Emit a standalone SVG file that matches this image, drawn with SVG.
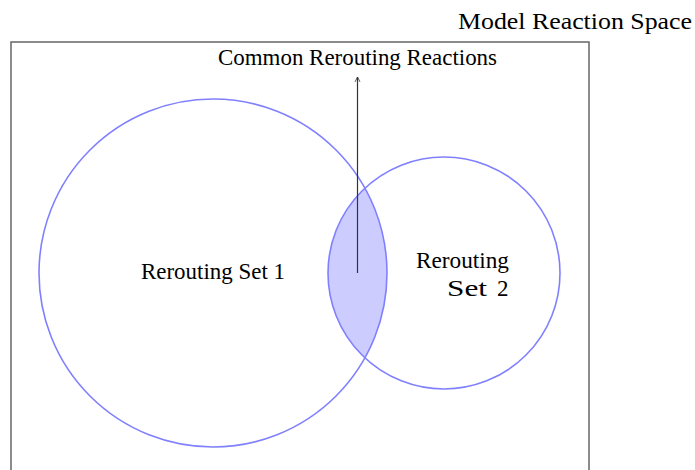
<svg xmlns="http://www.w3.org/2000/svg" width="695" height="470" viewBox="0 0 695 470">
<style>
.t{font-family:"Liberation Serif","DejaVu Serif",serif;font-size:23px;fill:#000}
.c{fill:none;stroke:#8080ff;stroke-width:1.6}
</style>
<defs>
<marker id="ah" viewBox="0 0 10 10" refX="9" refY="5" markerWidth="7" markerHeight="7" orient="auto" markerUnits="userSpaceOnUse">
<path d="M2,1.5 L9,5 L2,8.5" fill="none" stroke="#333" stroke-width="1.2"/>
</marker>
</defs>
<rect width="695" height="470" fill="#fff"/>
<g id="space">
<rect x="11" y="42" width="578" height="460" fill="none" stroke="#666" stroke-width="1.5"/>
<text class="t" x="458" y="29" textLength="234" lengthAdjust="spacingAndGlyphs">Model Reaction Space</text>
</g>
<g id="lens">
<path d="M364.9,188.1 A174,174 0 0 1 364.9,357.9 A116,116 0 0 1 364.9,188.1 Z" fill="#ccccff"/>
</g>
<g id="set1">
<circle class="c" cx="213" cy="273" r="174"/>
<text class="t" x="141" y="279" textLength="144" lengthAdjust="spacingAndGlyphs">Rerouting Set 1</text>
</g>
<g id="set2">
<circle class="c" cx="444" cy="273" r="116"/>
<text class="t" x="416" y="268" textLength="93" lengthAdjust="spacingAndGlyphs">Rerouting</text>
<text class="t" x="447" y="296"><tspan textLength="40" lengthAdjust="spacingAndGlyphs">Set</tspan> <tspan x="497">2</tspan></text>
</g>
<g id="connectors">
<line x1="357.5" y1="273" x2="357.5" y2="77" stroke="#333" stroke-width="1.2" marker-end="url(#ah)"/>
</g>
<g id="common">
<text class="t" x="218" y="65" textLength="279" lengthAdjust="spacingAndGlyphs">Common Rerouting Reactions</text>
</g>
</svg>
